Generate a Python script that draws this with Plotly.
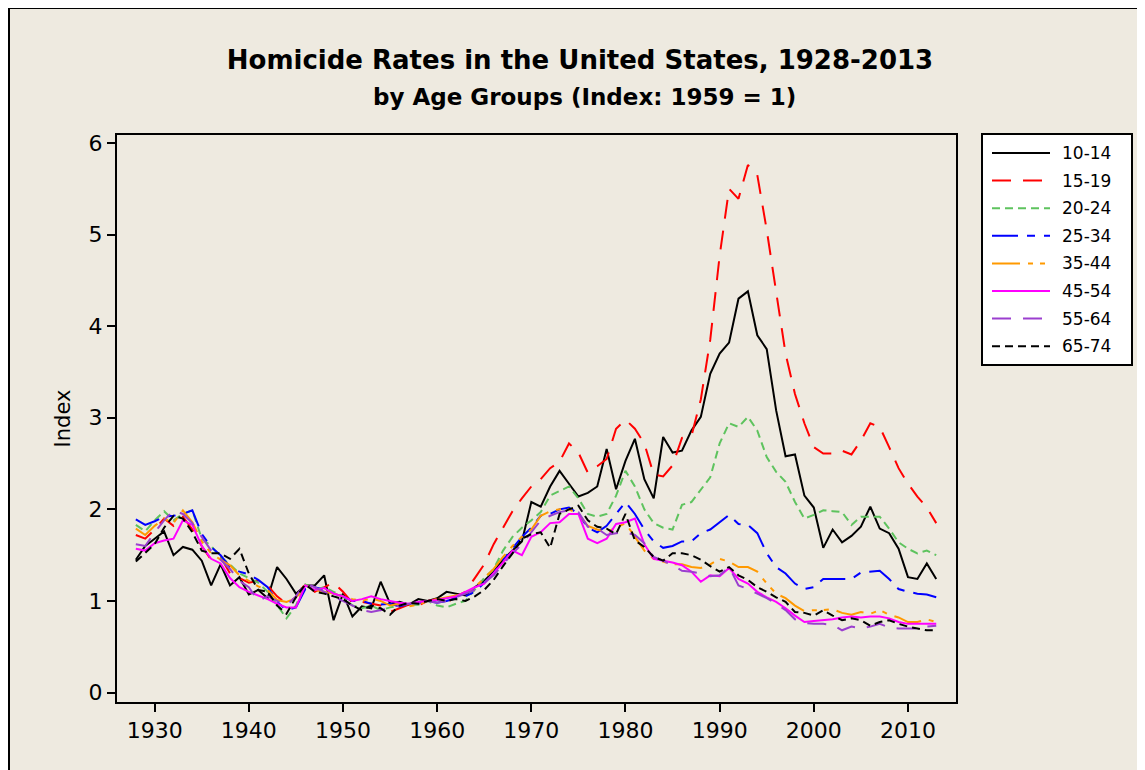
import plotly.graph_objects as go

# Homicide rate index by age group, 1959 = 1
years = list(range(1928, 2014))

age_10_14 = [
    1.45, 1.60,
    1.68, 1.76, 1.50, 1.59, 1.56, 1.44, 1.17, 1.40, 1.17, 1.26,
    1.07, 1.12, 1.03, 1.37, 1.24, 1.08, 1.17, 1.17, 1.28, 0.79,
    1.08, 0.83, 0.94, 0.92, 1.21, 0.97, 0.99, 0.96, 1.02, 1.00,
    1.03, 1.10, 1.08, 1.06, 1.15, 1.22, 1.32, 1.45, 1.55, 1.65,
    2.08, 2.03, 2.25, 2.42, 2.28, 2.14, 2.18, 2.25, 2.66, 2.22,
    2.53, 2.77, 2.33, 2.12, 2.79, 2.62, 2.64, 2.86, 3.01, 3.48,
    3.70, 3.82, 4.30, 4.38, 3.90, 3.75, 3.08, 2.58, 2.60, 2.15,
    2.02, 1.58, 1.78, 1.64, 1.71, 1.81, 2.03, 1.79, 1.74, 1.57,
    1.26, 1.24, 1.41, 1.24,
]
age_15_19 = [
    1.72, 1.68,
    1.78, 1.90, 1.82, 1.92, 1.78, 1.60, 1.45, 1.48, 1.30, 1.25,
    1.20, 1.22, 1.17, 1.05, 0.97, 1.04, 1.19, 1.10, 1.15, 1.20,
    1.10, 0.98, 0.99, 0.97, 0.95, 0.88, 0.92, 0.96, 0.95, 1.00,
    1.02, 0.98, 1.05, 1.10, 1.25, 1.40, 1.62, 1.80, 1.98, 2.12,
    2.25, 2.33, 2.45, 2.52, 2.72, 2.62, 2.40, 2.47, 2.55, 2.88,
    2.98, 2.88, 2.72, 2.38, 2.36, 2.48, 2.78, 2.80, 3.20, 3.85,
    4.77, 5.50, 5.39, 5.76, 5.65, 5.05, 4.35, 3.70, 3.26, 2.94,
    2.68, 2.61, 2.61, 2.64, 2.60, 2.75, 2.94, 2.90, 2.68, 2.45,
    2.28, 2.14, 2.02, 1.85,
]
age_20_24 = [
    1.83, 1.76,
    1.88, 1.98, 1.88, 1.95, 1.99, 1.68, 1.60, 1.48, 1.40, 1.30,
    1.25, 1.20, 1.10, 0.95, 0.81, 0.95, 1.18, 1.12, 1.15, 1.10,
    1.05, 0.95, 0.92, 0.95, 0.90, 0.93, 0.95, 0.96, 0.96, 1.00,
    0.95, 0.93, 0.97, 1.00, 1.12, 1.25, 1.35, 1.55, 1.70, 1.80,
    1.88, 1.97, 2.15, 2.20, 2.25, 2.12, 1.95, 1.92, 1.95, 2.15,
    2.42, 2.25, 2.00, 1.85, 1.80, 1.78, 2.05, 2.08, 2.22, 2.35,
    2.72, 2.94, 2.90, 3.01, 2.86, 2.57, 2.41, 2.30, 2.08, 1.90,
    1.94, 1.99, 1.98, 1.97, 1.83, 1.92, 1.92, 1.92, 1.79, 1.64,
    1.57, 1.52, 1.55, 1.50,
]
age_25_34 = [
    1.89, 1.83,
    1.87, 1.92, 1.93, 1.95, 1.99, 1.73, 1.59, 1.50, 1.37, 1.32,
    1.29, 1.23, 1.15, 0.99, 0.90, 0.93, 1.13, 1.15, 1.12, 1.08,
    1.05, 1.00, 1.00, 0.97, 0.96, 0.97, 0.94, 0.97, 0.98, 1.00,
    0.98, 1.00, 1.03, 1.05, 1.10, 1.20, 1.30, 1.45, 1.58, 1.70,
    1.80, 1.93, 1.95, 2.00, 2.02, 1.95, 1.80, 1.75, 1.82, 1.95,
    2.08, 1.95, 1.78, 1.65, 1.58, 1.60, 1.65, 1.65, 1.74, 1.78,
    1.86, 1.94, 1.84, 1.83, 1.74, 1.52, 1.37, 1.30, 1.19, 1.13,
    1.15, 1.24, 1.24, 1.24, 1.24, 1.31, 1.32, 1.33, 1.24, 1.13,
    1.10, 1.08, 1.07, 1.04,
]
age_35_44 = [
    1.79, 1.72,
    1.82, 1.90, 1.85, 1.99, 1.86, 1.65, 1.52, 1.45, 1.39, 1.28,
    1.22, 1.16, 1.12, 1.01, 0.99, 1.03, 1.17, 1.12, 1.10, 1.08,
    1.05, 1.02, 1.00, 1.03, 1.00, 0.95, 0.97, 0.94, 0.96, 1.00,
    1.02, 1.04, 1.06, 1.08, 1.15, 1.25, 1.35, 1.48, 1.60, 1.70,
    1.78, 1.93, 1.98, 2.00, 2.00, 1.95, 1.82, 1.78, 1.75, 1.80,
    1.85, 1.70, 1.55, 1.46, 1.43, 1.40, 1.40, 1.37, 1.36, 1.40,
    1.46, 1.43, 1.37, 1.37, 1.32, 1.19, 1.08, 1.03, 0.95, 0.89,
    0.90, 0.90, 0.91, 0.87, 0.85, 0.88, 0.86, 0.90, 0.85, 0.82,
    0.77, 0.77, 0.80, 0.77,
]
age_45_54 = [
    1.57, 1.55,
    1.63, 1.66, 1.68, 1.88, 1.83, 1.60, 1.46, 1.41, 1.25, 1.15,
    1.10, 1.06, 1.02, 0.97, 0.93, 0.93, 1.17, 1.12, 1.14, 1.08,
    1.05, 1.00, 1.02, 1.05, 1.02, 1.00, 0.98, 0.97, 0.99, 1.00,
    1.01, 1.03, 1.05, 1.10, 1.15, 1.19, 1.30, 1.42, 1.55, 1.50,
    1.70, 1.75, 1.85, 1.86, 1.95, 1.95, 1.68, 1.63, 1.68, 1.84,
    1.86, 1.90, 1.62, 1.46, 1.44, 1.42, 1.39, 1.32, 1.21, 1.28,
    1.27, 1.36, 1.24, 1.19, 1.10, 1.04, 0.99, 0.92, 0.84, 0.77,
    0.78, 0.79, 0.80, 0.82, 0.83, 0.82, 0.83, 0.83, 0.81, 0.77,
    0.75, 0.75, 0.75, 0.75,
]
age_55_64 = [
    1.62, 1.60,
    1.75, 1.88, 1.99, 1.95, 1.85, 1.70, 1.55, 1.45, 1.35, 1.22,
    1.15, 1.00, 1.05, 1.00, 0.95, 1.05, 1.20, 1.15, 1.10, 1.05,
    1.00, 0.95, 0.90, 0.88, 0.90, 0.92, 0.95, 0.97, 0.98, 1.00,
    0.98, 1.00, 1.04, 1.08, 1.12, 1.20, 1.28, 1.40, 1.52, 1.62,
    1.75, 1.88, 1.93, 1.97, 1.99, 1.97, 1.81, 1.79, 1.72, 1.74,
    1.75, 1.72, 1.63, 1.48, 1.44, 1.39, 1.33, 1.32, 1.30, 1.27,
    1.28, 1.37, 1.17, 1.13, 1.08, 1.03, 0.97, 0.90, 0.80, 0.76,
    0.75, 0.75, 0.74, 0.68, 0.72, 0.70, 0.72, 0.75, 0.71, 0.70,
    0.70, 0.70, 0.72, 0.73,
]
age_65_74 = [
    1.43, 1.52,
    1.62, 1.80, 1.93, 1.90, 1.75, 1.55, 1.52, 1.52, 1.46, 1.57,
    1.30, 1.12, 1.10, 0.95, 0.86, 1.04, 1.18, 1.10, 1.08, 1.05,
    1.02, 0.95, 0.90, 0.95, 0.92, 0.85, 0.95, 0.98, 0.97, 1.00,
    1.02, 1.00, 1.02, 1.00, 1.05, 1.12, 1.23, 1.38, 1.52, 1.68,
    1.73, 1.75, 1.58, 1.95, 2.00, 2.04, 1.88, 1.81, 1.79, 1.73,
    1.95, 1.66, 1.59, 1.48, 1.44, 1.52, 1.52, 1.50, 1.45, 1.38,
    1.32, 1.37, 1.28, 1.23, 1.15, 1.10, 1.04, 0.99, 0.88, 0.87,
    0.84, 0.90, 0.84, 0.79, 0.81, 0.79, 0.73, 0.77, 0.79, 0.75,
    0.72, 0.70, 0.68, 0.68,
]

age_groups = ["10-14", "15-19", "20-24", "25-34", "35-44", "45-54", "55-64", "65-74"]
series = [age_10_14, age_15_19, age_20_24, age_25_34,
          age_35_44, age_45_54, age_55_64, age_65_74]
colors = ["#000000", "#FF0000", "#5EC35E", "#0000FF",
          "#FF9900", "#FF00FF", "#9B3FCF", "#000000"]
dashes = ["solid", "19px,12px", "8px,5px", "26px,9px,8px,9px",
          "28px,8px,5px,7px,5px,8px", "solid", "19px,12px", "8px,5px"]

x_ticks = [1930, 1940, 1950, 1960, 1970, 1980, 1990, 2000, 2010]
y_ticks = [0, 1, 2, 3, 4, 5, 6]

# the page puts the figure 8px in from the top-left corner
OFF = 8
W, H = 1145 - OFF, 770 - OFF
L, R, T, B = 109, 189, 127, 68
PW, PH = W - L - R, H - T - B
BEIGE = "#EEEAE0"
FONT = "DejaVu Sans"


def px(x):
    # page pixel -> paper x
    return (x - OFF - L) / PW


def py(y):
    # page pixel -> paper y
    return (H - B - (y - OFF)) / PH


fig = go.Figure()

for name, vals, col, dash in zip(age_groups, series, colors, dashes):
    fig.add_trace(go.Scatter(
        x=years, y=vals, mode="lines", name=name,
        line=dict(color=col, width=2, dash=dash),
        showlegend=False,
    ))

shapes = [
    # beige panel with its frame
    dict(type="rect", xref="paper", yref="paper", layer="below",
         x0=px(9), x1=px(1145 + 20), y0=py(770 + 20), y1=py(8),
         fillcolor=BEIGE, line=dict(color="black", width=2)),
    # legend box
    dict(type="rect", xref="paper", yref="paper",
         x0=px(982), x1=px(1132), y0=py(365), y1=py(134),
         fillcolor="white", line=dict(color="black", width=2)),
]
annotations = [
    dict(text="<b>by Age Groups (Index: 1959 = 1)</b>", xref="paper", yref="paper",
         x=px(584), y=py(97), xanchor="center", yanchor="middle", showarrow=False,
         font=dict(family=FONT, size=23, color="black")),
]

# hand-made legend so the line samples are as long as in the original
for i, (name, col, dash) in enumerate(zip(age_groups, colors, dashes)):
    yy = 153 + 27.6 * i
    shapes.append(dict(type="line", xref="paper", yref="paper",
                       x0=px(992), x1=px(1050), y0=py(yy), y1=py(yy),
                       line=dict(color=col, width=2, dash=dash)))
    annotations.append(dict(text=name, xref="paper", yref="paper",
                            x=px(1060), y=py(yy), xanchor="left", yanchor="middle",
                            showarrow=False,
                            font=dict(family=FONT, size=17, color="black")))

axis_style = dict(
    showline=True, linecolor="black", linewidth=2, mirror=True,
    ticks="outside", ticklen=8, tickwidth=2, tickcolor="black",
    showgrid=False, zeroline=False,
    tickfont=dict(family=FONT, size=22, color="black"),
)

fig.update_layout(
    width=W, height=H,
    margin=dict(l=L, r=R, t=T, b=B),
    paper_bgcolor="white",
    plot_bgcolor="white",
    title=dict(text="<b>Homicide Rates in the United States, 1928-2013</b>",
               x=(580 - OFF) / W, xanchor="center", y=1 - (60 - OFF) / H,
               yanchor="middle",
               font=dict(family=FONT, size=26, color="black")),
    xaxis=dict(range=[1926.0, 2015.1], tickvals=x_ticks, **axis_style),
    yaxis=dict(range=[-0.103, 6.087], tickvals=y_ticks,
               title=dict(text="Index", font=dict(family=FONT, size=21, color="black"),
                          standoff=12),
               **axis_style),
    shapes=shapes,
    annotations=annotations,
)

fig.write_html("out.html")
